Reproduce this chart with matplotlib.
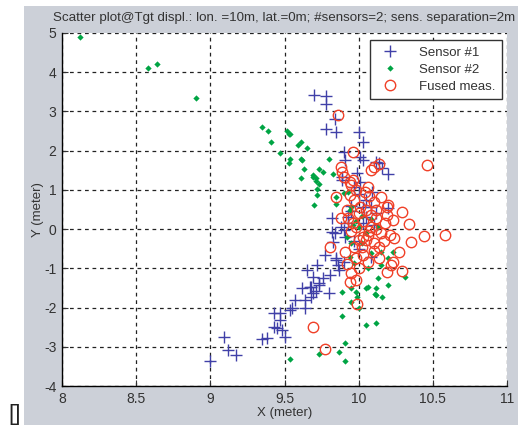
import matplotlib.pyplot as plt
from matplotlib.patches import Rectangle

# --- Data ---
s1_x = [9.70, 9.78, 9.78, 9.78, 9.85, 9.84, 10.00, 10.03, 9.90, 9.91, 10.01, 10.03,
        10.12, 10.14, 10.16, 10.20, 9.99, 10.01, 9.97, 9.89, 9.89, 10.09, 10.03, 10.08,
        10.20, 9.82, 9.93, 10.03, 9.93, 9.82, 9.84, 9.90, 9.91, 9.83, 9.85, 9.90,
        9.87, 10.08, 9.81, 9.77, 9.85, 9.86, 9.72, 9.65, 9.69, 9.76, 9.73, 9.68,
        9.62, 9.67, 9.73, 9.71, 9.80, 9.69, 9.64, 9.68, 9.57, 9.64, 9.55, 9.54,
        9.43, 9.47, 9.47, 9.43, 9.45, 9.48, 9.50, 9.35, 9.38, 9.09, 9.12, 9.17,
        9.00, 9.95, 10.00, 10.05, 10.10, 9.97, 10.00, 10.05, 9.95, 10.12, 9.88]
s1_y = [3.42, 3.39, 3.19, 2.55, 2.47, 2.82, 2.48, 2.23, 1.97, 1.76, 1.85, 1.76,
        1.72, 1.68, 1.55, 1.40, 1.42, 1.21, 1.08, 1.34, 1.25, 0.95, 0.57, 0.57,
        0.53, 0.28, 0.32, 0.15, 0.15, -0.07, -0.11, -0.02, -0.19, -0.32, -0.74, -0.83,
        -1.04, -0.70, -1.17, -0.66, -0.79, -0.92, -0.92, -1.04, -1.21, -1.25, -1.38, -1.47,
        -1.51, -1.48, -1.43, -1.57, -1.64, -1.64, -1.81, -1.72, -1.81, -2.02, -2.02, -2.06,
        -2.15, -2.15, -2.32, -2.49, -2.53, -2.57, -2.74, -2.81, -2.78, -2.74, -3.08, -3.21,
        -3.36, 0.60, 0.90, 0.30, 0.10, -0.30, -0.50, 0.75, 0.45, 0.40, 0.05]

s2_x = [8.12, 8.58, 8.64, 8.90, 9.35, 9.39, 9.41, 9.52, 9.53, 9.54, 9.61, 9.59,
        9.65, 9.47, 9.54, 9.53, 9.61, 9.63, 9.73, 9.69, 9.69, 9.71, 9.71, 9.76,
        9.61, 9.80, 9.83, 9.73, 9.72, 9.72, 9.85, 9.93, 9.62, 9.70, 9.90, 9.94,
        10.02, 10.13, 9.85, 9.95, 9.94, 9.97, 9.95, 10.08, 10.15, 10.20, 10.23, 10.15,
        10.06, 10.13, 10.20, 10.31, 10.05, 10.12, 9.89, 9.98, 10.12, 10.16, 9.95, 9.99,
        10.06, 10.11, 9.95, 10.00, 9.89, 10.05, 10.12, 9.91, 9.87, 9.73, 9.91, 9.54,
        9.98, 10.05, 10.00, 9.92, 10.08, 10.02, 9.96]
s2_y = [4.90, 4.10, 4.20, 3.35, 2.61, 2.50, 2.21, 2.51, 2.42, 2.42, 2.23, 2.14,
        2.06, 1.95, 1.80, 1.69, 1.78, 1.54, 1.54, 1.38, 1.34, 1.30, 1.22, 1.46,
        1.30, 1.78, 1.40, 1.14, 1.02, 0.87, 0.81, 0.95, 1.76, 0.61, 0.91, 0.49,
        0.33, 0.06, 0.64, 0.57, -0.70, -0.87, -0.36, -0.62, -0.58, -0.74, -0.58, -0.92,
        -1.00, -1.25, -1.43, -1.21, -1.51, -1.50, -1.60, -1.60, -1.68, -1.74, -1.51, -1.74,
        -1.48, -1.66, -1.85, -2.02, -2.22, -2.44, -2.40, -2.91, -3.13, -3.18, -3.36, -3.32,
        0.20, -0.10, 0.05, -0.20, 0.25, -0.35, 0.10]

fused_x = [9.86, 9.96, 10.46, 9.88, 9.89, 10.08, 10.10, 10.14, 9.90, 9.94, 9.96, 9.95,
           10.06, 10.04, 10.15, 9.94, 9.85, 10.01, 10.19, 10.29, 10.00, 10.05, 10.08, 10.12,
           10.19, 10.23, 10.18, 9.88, 9.93, 10.34, 10.08, 9.98, 10.44, 10.58, 10.35, 10.24,
           10.21, 10.06, 10.05, 10.00, 9.97, 9.81, 10.02, 10.10, 10.14, 10.27, 9.91, 10.03,
           9.98, 10.14, 10.23, 10.22, 10.19, 10.29, 9.95, 9.94, 10.20, 9.98, 9.99, 9.69,
           9.77, 9.97, 10.10, 9.92, 10.12, 10.07, 10.15, 10.03, 9.95, 10.10, 10.06, 10.00,
           9.92, 10.17, 9.96, 10.03, 10.12, 9.98, 10.07]
fused_y = [2.91, 1.97, 1.63, 1.59, 1.46, 1.51, 1.58, 1.67, 1.34, 1.21, 1.25, 1.12,
           1.07, 0.95, 0.81, 0.87, 0.81, 0.57, 0.57, 0.44, 0.40, 0.49, 0.36, 0.28,
           0.36, 0.23, 0.15, 0.28, 0.28, 0.13, 0.06, 0.06, -0.18, -0.15, -0.32, -0.23,
           -0.15, -0.15, -0.28, -0.28, -0.45, -0.45, -0.45, -0.36, -0.45, -0.58, -0.58, -0.66,
           -0.74, -0.74, -0.83, -0.92, -1.09, -1.07, -1.13, -1.34, 0.61, -1.30, -1.91, -2.50,
           -3.06, 0.75, 0.70, 0.50, 0.00, -0.05, -0.10, -0.20, -0.05, -0.55, -0.85, -1.00,
           -0.90, -0.30, 0.15, 0.20, 0.50, 1.00, 0.85]

x_ticks = [8, 8.5, 9, 9.5, 10, 10.5, 11]
x_ticklabels = ['8', '8.5', '9', '9.5', '10', '10.5', '11']
y_ticks = [-4, -3, -2, -1, 0, 1, 2, 3, 4, 5]

TITLE = ('Scatter plot@Tgt displ.: lon. =10m, lat.=0m; '
         '#sensors=2; sens. separation=2m')

BLUE = '#4040a8'
GREEN = '#00a444'
RED = '#f04028'
GRAY_BG = '#ccd0d8'
TEXT = '#333333'

plt.rcParams['font.family'] = ['Liberation Sans', 'DejaVu Sans']
plt.rcParams['font.size'] = 9.5
plt.rcParams['axes.unicode_minus'] = False

fig = plt.figure(figsize=(5.18, 4.28), dpi=100)
fig.patch.set_facecolor('white')
# gray MATLAB-like window background, drawn behind the axes
bg = Rectangle((24 / 518, 3 / 428), 494 / 518, 419 / 428,
               transform=fig.transFigure, facecolor=GRAY_BG,
               edgecolor='none', zorder=-10)
fig.add_artist(bg)
fig.text(15 / 518, 3 / 428, '[]', fontsize=16, color='#222222',
         ha='center', va='bottom')

ax = fig.add_axes([62 / 518, 42 / 428, 445 / 518, 353 / 428])
ax.set_facecolor('white')

ax.plot(s1_x, s1_y, '+', color=BLUE, ms=8.5, mew=1.0, label='Sensor #1')
ax.plot(s2_x, s2_y, 'D', color=GREEN, ms=3.2, mew=0, label='Sensor #2')
ax.plot(fused_x, fused_y, 'o', mfc='none', mec=RED, ms=7.5, mew=1.0,
        label='Fused meas.')

ax.set_xlim(8, 11)
ax.set_ylim(-4, 5)
ax.set_xticks(x_ticks)
ax.set_xticklabels(x_ticklabels)
ax.set_yticks(y_ticks)

ax.grid(True, color='#222222', linestyle=(0, (3, 3)), linewidth=0.9)
ax.set_axisbelow(True)
for side in ['top', 'right']:
    ax.spines[side].set_visible(False)
for side in ['left', 'bottom']:
    ax.spines[side].set_color('black')
    ax.spines[side].set_linewidth(1.0)

ax.tick_params(direction='in', length=4, width=0.8, pad=4, colors=TEXT,
               labelsize=10)
ax.set_xlabel('X (meter)', color=TEXT, fontsize=9.5, labelpad=1)
ax.set_ylabel('Y (meter)', color=TEXT, fontsize=9.5, labelpad=0)
ax.set_title(TITLE, color=TEXT, fontsize=9.6, pad=9)

leg = ax.legend(loc='upper right', bbox_to_anchor=(0.989, 0.980),
                borderaxespad=0, fancybox=False, framealpha=1,
                edgecolor='#333333', fontsize=9.5, handletextpad=1.2,
                borderpad=0.5, labelspacing=0.35)
leg.get_frame().set_linewidth(1.0)
for t in leg.get_texts():
    t.set_color(TEXT)

fig.savefig('out.png', dpi=100)
